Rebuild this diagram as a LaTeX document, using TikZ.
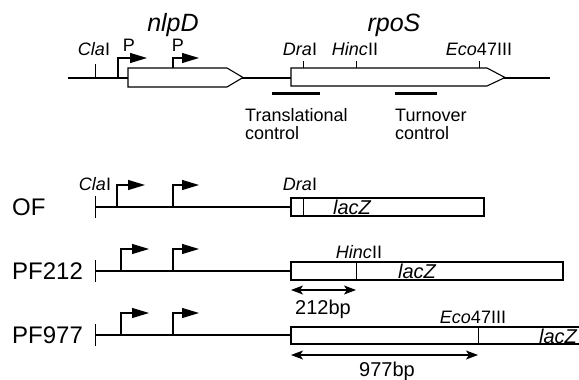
\documentclass[tikz,border=0pt]{standalone}
\usepackage{fontspec}
\setmainfont{Liberation Sans}
\usetikzlibrary{arrows.meta,positioning,calc}
\tikzset{
	dna/.style   = {line width=1.1pt,black},
	gene/.style  = {draw,line width=1.1pt,fill=white},
	cut/.style   = {line width=0.9pt},
	enz/.style   = {font=\fontsize{18}{20}\selectfont,inner sep=0pt,anchor=base},
	prom/.style  = {line width=1.1pt,-{Triangle[length=17pt,width=10pt]}},
	ctrl/.style  = {line width=3pt},
	span/.style  = {line width=1.1pt,
		{Stealth[length=12pt,width=9pt,inset=3pt]}-{Stealth[length=12pt,width=9pt,inset=3pt]}},
	lbl/.style   = {font=\fontsize{18}{18}\selectfont,inner sep=0pt,align=left},
	bp/.style    = {font=\fontsize{20}{22}\selectfont,inner sep=0pt},
	rowlbl/.style= {font=\fontsize{24}{26}\selectfont,inner sep=0pt,anchor=west},
	genlbl/.style= {font=\fontsize{25}{28}\itshape,inner sep=0pt,anchor=base},
	lac/.style   = {font=\fontsize{20}{22}\itshape,inner sep=0pt},
}
\begin{document}
\begin{tikzpicture}[x=1pt,y=-1pt]
	\useasboundingbox (0,0) rectangle (579,380);
	
	%% chromosomal map
	\coordinate (bl) at (68,78);
	\coordinate (br) at (550,78);
	\draw[dna] (bl) -- (br);
	\draw[gene] (128,68) coordinate (nlpd) -- (227,68) -- (243,77.5) coordinate (nlpdtip)
		-- (227,87) -- (128,87) -- cycle;
	\draw[gene] (291,68) coordinate (rpos) -- (487,68) -- (505,77.5) coordinate (rpostip)
		-- (487,86) -- (291,86) -- cycle;
	\node[genlbl] (nlpdlbl) at (173,31) {nlpD};
	\node[genlbl] (rposlbl) at (394,31) {rpoS};
	
	%% sites
	\coordinate (cla) at (95,78);
	\coordinate (dra) at (303,68);
	\coordinate (hinc) at (356,68);
	\coordinate (eco) at (479,68);
	\draw[cut] (cla) -- ++(0,-14);
	\foreach \s in {dra,hinc,eco}
		\draw[cut] (\s) -- ++(0,-7);
	\node[enz] (clalbl) at (94,56) {\textit{Cla}I};
	\node[enz] (dralbl) at (300,56) {\textit{Dra}I};
	\node[enz] (hinclbl) at (355,56) {\textit{Hinc}II};
	\node[enz] (ecolbl) at (479,56) {\textit{Eco}47III};
	
	%% promoters
	\draw[prom] (118,78) coordinate (p1) -- ++(0,-20) -- ++(29,0);
	\draw[prom] (173,68) coordinate (p2) -- ++(0,-10) -- ++(26,0);
	\node[enz] (p1lbl) at (129,52) {P};
	\node[enz] (p2lbl) at (178,52) {P};
	
	%% control regions
	\draw[ctrl] (272,93) coordinate (tl) -- (320,93) coordinate (tr);
	\draw[ctrl] (395,93) coordinate (ol) -- (437,93) coordinate (or);
	\node[lbl,anchor=base west] (tlbl) at (245,139) {Translational\\control};
	\node[lbl,anchor=base west] (olbl) at (395,139) {Turnover\\control};
	
	%% fusion constructs
	\foreach \y/\nm/\px in {207/OF/117,271/PF212/121,335/PF977/121}{
		\node[rowlbl] (\nm) at (12,\y) {\nm};
		\coordinate (\nm-s) at (95,\y);
		\coordinate (\nm-e) at (291,\y);
		\draw[cut] ($(\nm-s)+(0,-11)$) -- ($(\nm-s)+(0,11)$);
		\draw[dna] (\nm-s) -- (\nm-e);
		\draw[prom] (\px,\y) -- ++(0,-22) -- ++(28,0);
		\draw[prom] (173,\y) -- ++(0,-22) -- ++(26,0);
	}
	
	%% OF
	\draw[gene] (OF-e) ++(0,-9) rectangle (484,216);
	\draw[cut] (303,198) -- (303,216);
	\node[enz] (ofcla) at (95,190) {\textit{Cla}I};
	\node[enz] (ofdra) at (300,190) {\textit{Dra}I};
	\node[lac] (oflac) at (352,207) {lacZ};
	
	%% PF212
	\draw[gene] (PF212-e) ++(0,-9) rectangle (563,280);
	\draw[cut] (356,262) -- (356,280);
	\node[enz] (pf212hinc) at (359,258) {\textit{Hinc}II};
	\node[lac] (pf212lac) at (417,271) {lacZ};
	\coordinate (a212l) at (291,290);
	\coordinate (a212r) at (356,290);
	\draw[span] (a212l) -- (a212r);
	\node[bp] (bp212) at (323,309) {212bp};
	
	%% PF977
	\draw[gene] (583,327) -- (291,327) -- (291,344) -- (583,344);
	\draw[cut] (478,327) -- (478,344);
	\node[enz] (pf977eco) at (473,323) {\textit{Eco}47III};
	\node[lac] (pf977lac) at (558,336) {lacZ};
	\coordinate (a977l) at (291,355);
	\coordinate (a977r) at (478,355);
	\draw[span] (a977l) -- (a977r);
	\node[bp] (bp977) at (387,371) {977bp};
\end{tikzpicture}
\end{document}
